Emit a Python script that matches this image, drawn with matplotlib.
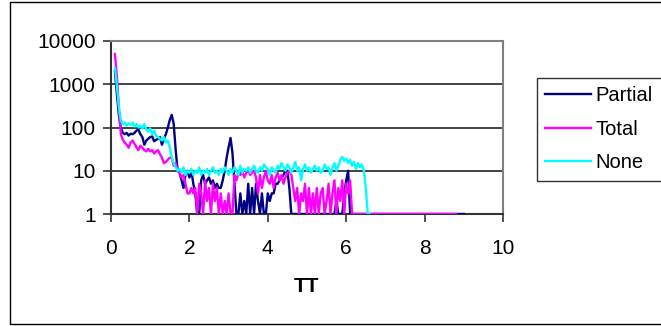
"""Log-scale counts against TT for three groups (Partial / Total / None)."""
import matplotlib
matplotlib.use("Agg")
import matplotlib.pyplot as plt
import numpy as np
from matplotlib.patches import Rectangle

plt.rcParams["font.family"] = ["Liberation Sans", "DejaVu Sans"]

# sampling grid for TT (every 0.05 from 0.10 to 6.60)
tt = np.round(np.arange(0.10, 6.601, 0.05), 2)

partial = [
    2000, 600, 200, 100, 75, 70, 75, 65, 72, 70,
    75, 85, 90, 70, 60, 40, 50, 55, 60, 62,
    48, 52, 55, 60, 40, 55, 70, 100, 150, 195,
    120, 30, 10, 9, 6, 4, 8, 10, 7, 10,
    5, 3, 1, 1, 6, 8, 5, 6, 7, 5,
    6, 4, 5, 4, 4, 6, 10, 20, 35, 57,
    25, 5, 1, 1, 3, 1, 2, 1, 5, 1,
    4, 1, 5, 2, 1, 3, 1, 1, 3, 2,
    3, 3, 5, 5, 6, 7, 8, 10, 10, 4,
    1, 1, 1, 1, 1, 1, 1, 1, 1, 1,
    1, 1, 1, 1, 1, 1, 1, 1, 1, 1,
    1, 1, 1, 2, 1, 1, 1, 3, 6, 10,
    1, 1, 1, 1, 1, 1, 1, 1, 1, 1,
    1,
]
total = [
    5000, 1500, 300, 70, 52, 45, 40, 34, 45, 50,
    42, 35, 30, 38, 34, 30, 28, 32, 28, 30,
    25, 28, 30, 24, 20, 15, 16, 18, 20, 20,
    13, 15, 10, 9, 7, 8, 5, 3, 3, 4,
    3, 4, 1, 5, 3, 1, 6, 2, 4, 1,
    5, 2, 4, 1, 3, 1, 2, 1, 3, 1,
    1, 8, 6, 9, 8, 10, 7, 9, 10, 8,
    9, 10, 7, 3, 8, 4, 7, 10, 6, 5,
    8, 4, 7, 9, 6, 8, 5, 7, 9, 10,
    8, 4, 2, 4, 1, 3, 2, 5, 1, 4,
    1, 3, 1, 4, 1, 3, 4, 1, 2, 5,
    1, 3, 6, 1, 4, 2, 6, 1, 5, 3,
    6, 1, 1, 1, 1, 1, 1, 1, 1, 1,
    1,
]
none = [
    2400, 900, 300, 150, 120, 130, 110, 125, 115, 130,
    105, 120, 100, 110, 95, 120, 90, 80, 95, 70,
    85, 65, 60, 55, 50, 60, 45, 50, 35, 20,
    15, 12, 10, 11, 9, 12, 8, 10, 9, 11,
    8, 10, 9, 12, 8, 10, 9, 11, 8, 10,
    12, 9, 10, 8, 11, 9, 12, 10, 8, 11,
    9, 12, 10, 8, 13, 9, 11, 10, 12, 9,
    11, 13, 10, 9, 12, 10, 14, 12, 11, 8,
    12, 10, 9, 13, 11, 15, 12, 10, 14, 12,
    9, 12, 16, 10, 12, 6, 11, 14, 10, 12,
    9, 11, 13, 10, 12, 9, 10, 14, 11, 12,
    8, 12, 15, 10, 13, 18, 21, 17, 19, 15,
    18, 13, 16, 11, 15, 12, 14, 10, 4, 1,
    1,
]
# flat tails at the floor value
partial_tail = ([9.0], [1])
total_tail = ([8.8], [1])

series = [
    ("Partial", partial, partial_tail, "#000080"),
    ("Total", total, total_tail, "#ff00ff"),
    ("None", none, None, "#00ffff"),
]

W, H = 661, 326
fig = plt.figure(figsize=(W / 100, H / 100), dpi=100)
ax = fig.add_axes([111 / W, 1 - 214 / H, (503 - 111) / W, (214 - 41) / H])

for name, vals, tail, color in series:
    x, y = list(tt), list(vals)
    if tail is not None:
        x += tail[0]
        y += tail[1]
    ax.plot(x, y, color=color, lw=1.7, label=name, zorder=3)

ax.set_yscale("log")
ax.set_ylim(1, 10000)
ax.set_xlim(0, 10)
ax.set_xticks(np.arange(0, 11, 2))
ax.set_yticks([1, 10, 100, 1000, 10000])
ax.set_yticklabels(["1", "10", "100", "1000", "10000"])
ax.yaxis.set_minor_locator(matplotlib.ticker.NullLocator())
ax.tick_params(labelsize=15, length=6, width=1.2, color="#333333", pad=5)
ax.tick_params(axis="x", pad=12)
ax.grid(axis="y", which="major", color="#222222", lw=1.2, zorder=1)
for side in ("left", "bottom"):
    ax.spines[side].set_color("#333333")
    ax.spines[side].set_linewidth(1.5)
for side in ("top", "right"):
    ax.spines[side].set_color("#808080")
    ax.spines[side].set_linewidth(1.5)

ax.set_xlabel("TT", fontsize=15, fontweight="bold", labelpad=14)

leg = ax.legend(loc="upper left", bbox_to_anchor=(537 / W, 1 - 78 / H),
                bbox_transform=fig.transFigure, fontsize=14.5, frameon=True,
                fancybox=False, edgecolor="black", handlelength=2.25,
                handletextpad=0.25, labelspacing=0.72, borderpad=0.42,
                borderaxespad=0)
leg.get_frame().set_linewidth(1.0)

# chart-area border (right edge falls outside the image)
fig.patches.append(Rectangle((10 / W, 2 / H), 1.0, (324 - 2) / H,
                             transform=fig.transFigure, fill=False,
                             edgecolor="black", lw=1.0))

fig.savefig("out.png", dpi=100)
